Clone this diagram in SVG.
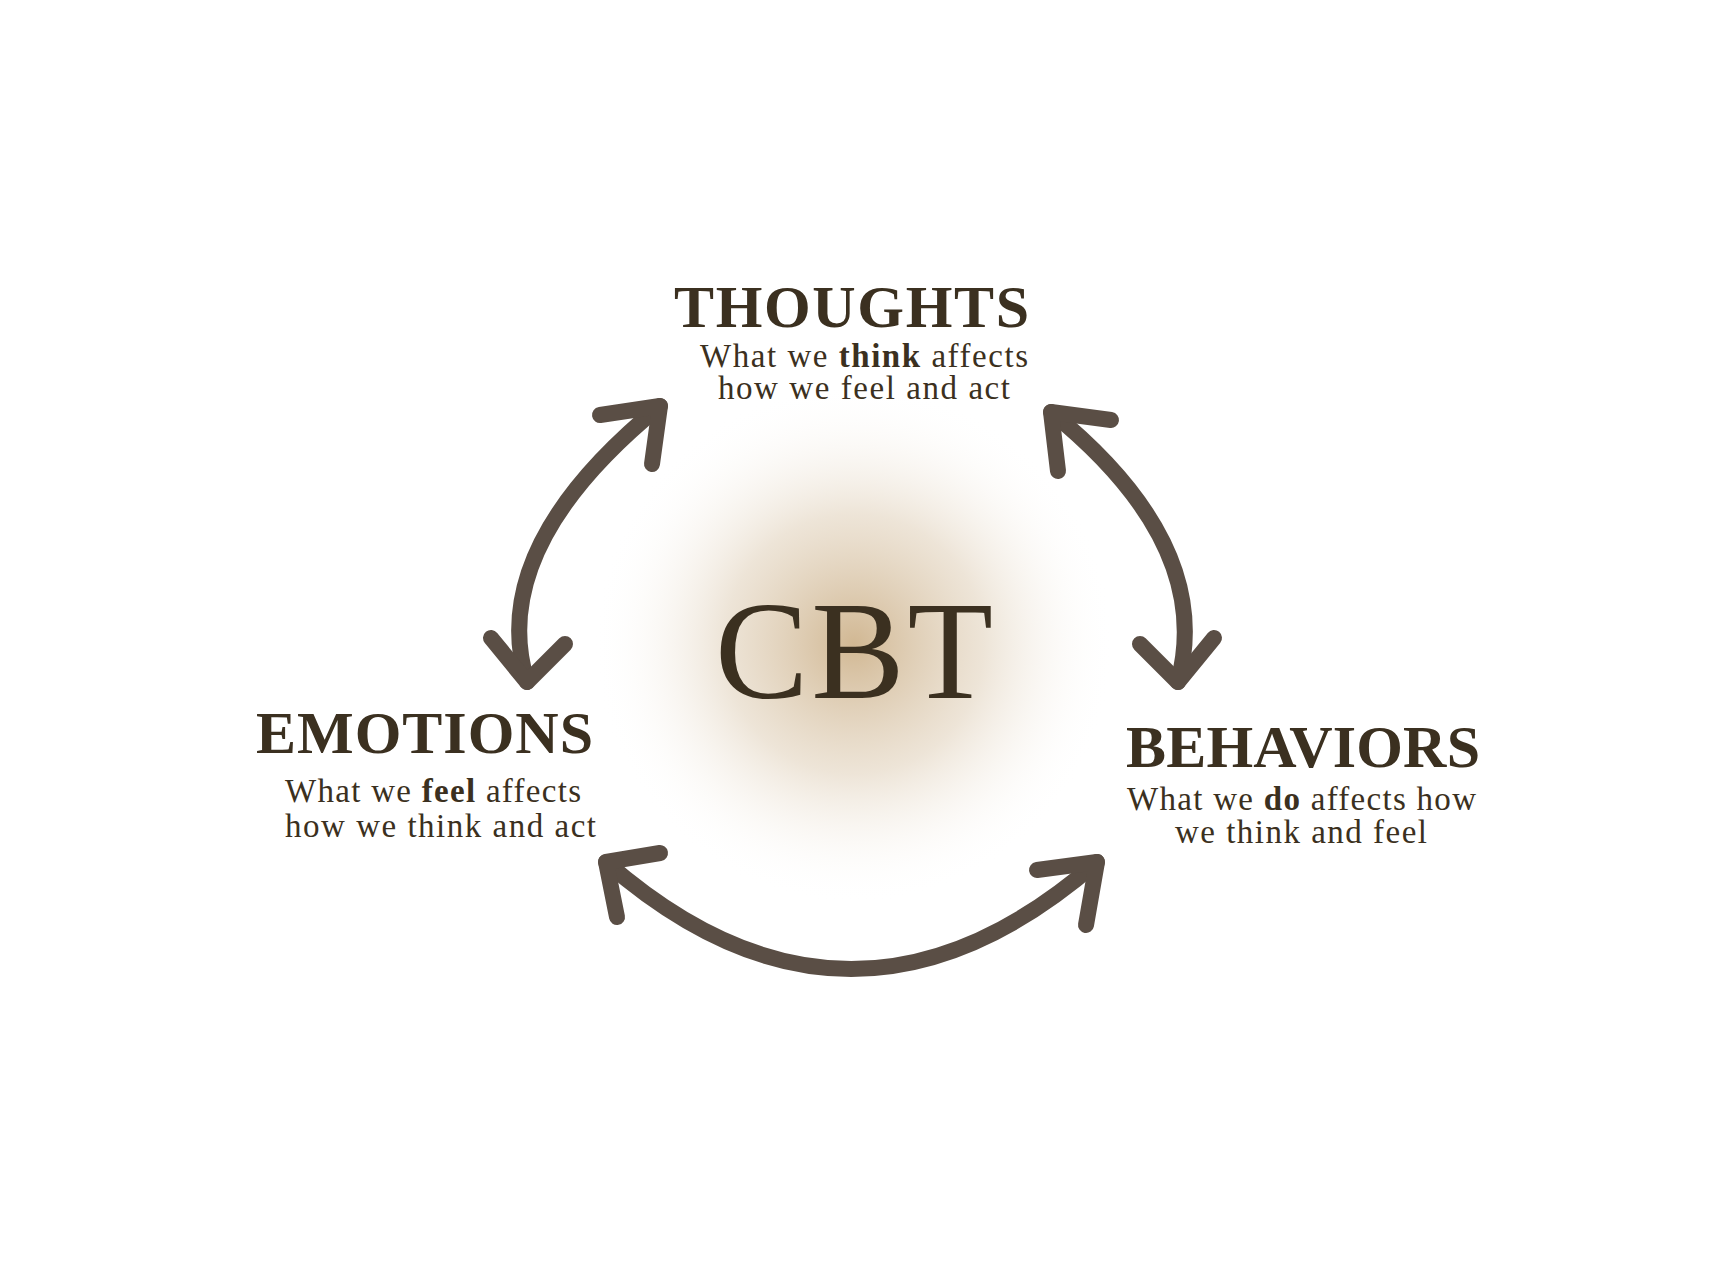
<svg xmlns="http://www.w3.org/2000/svg" width="1711" height="1283" viewBox="0 0 1711 1283">
<style>
.t{font-family:"Liberation Serif",serif;fill:#3b3020}
.h{font-weight:bold;font-size:60px}
.s{font-size:33px}
.a{fill:none;stroke:#5a4e45;stroke-width:16;stroke-linecap:round;stroke-linejoin:round}
</style>
<defs><radialGradient id="g"><stop offset="0" stop-color="#c9ab80" stop-opacity="0.85"/><stop offset="0.5" stop-color="#dccab0" stop-opacity="0.5"/><stop offset="1" stop-color="#fff" stop-opacity="0"/></radialGradient></defs>
<rect width="1711" height="1283" fill="#fff"/>
<circle cx="854" cy="644" r="260" fill="url(#g)"/>
<g id="cbt"><text class="t" x="854" y="698" font-size="140" text-anchor="middle" textLength="278">CBT</text></g>
<g id="thoughts"><text class="t h" x="674" y="327" textLength="355">THOUGHTS</text>
<text class="t s" x="700" y="367" textLength="328">What we <tspan font-weight="bold">think</tspan> affects</text>
<text class="t s" x="718" y="399" textLength="292">how we feel and act</text></g>
<g id="emotions"><text class="t h" x="256" y="753" textLength="337">EMOTIONS</text>
<text class="t s" x="285" y="802" textLength="296">What we <tspan font-weight="bold">feel</tspan> affects</text>
<text class="t s" x="285" y="837" textLength="311">how we think and act</text></g>
<g id="behaviors"><text class="t h" x="1126" y="767" textLength="354">BEHAVIORS</text>
<text class="t s" x="1127" y="810" textLength="349">What we <tspan font-weight="bold">do</tspan> affects how</text>
<text class="t s" x="1175" y="843" textLength="252">we think and feel</text></g>
<g id="connectors">
<path class="a" d="M660,406 Q486,548 527,682"/>
<path class="a" d="M600,415 L660,406 L652,464"/>
<path class="a" d="M491,638 L527,682 L565,644"/>
<path class="a" d="M1051,412 Q1215,545 1178,682"/>
<path class="a" d="M1111,420 L1051,412 L1058,471"/>
<path class="a" d="M1140,644 L1178,682 L1214,638"/>
<path class="a" d="M606,862 Q851,1076 1097,862"/>
<path class="a" d="M617,917 L606,862 L660,853"/>
<path class="a" d="M1086,925 L1097,862 L1037,870"/>
</g>
</svg>
